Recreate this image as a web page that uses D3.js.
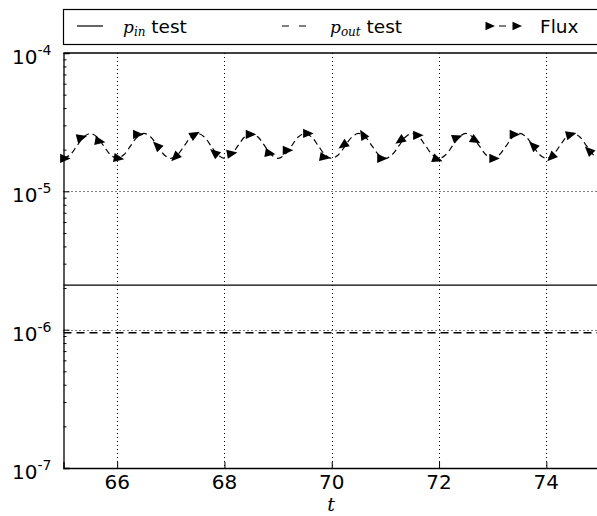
<!DOCTYPE html>
<html><head><meta charset="utf-8">
<script src="https://cdn.jsdelivr.net/npm/d3@7"></script>
<style>body{margin:0;background:#fff}svg{display:block}</style>
</head><body>
<script>
// ---- data ----
const tDomain = [65, 75];
const yTicks = [1e-7, 1e-6, 1e-5, 1e-4];
const yTickLabels = ["-7", "-6", "-5", "-4"];
const xTicks = [66, 68, 70, 72, 74];
const pinT = [65, 75];
const pinVals = [2.1e-6, 2.1e-6];
const poutT = [65, 75];
const poutVals = [0.95e-6, 0.95e-6];
const fluxT = [65,65.125,65.25,65.375,65.5,65.625,65.75,65.875,
 66,66.125,66.25,66.375,66.5,66.625,66.75,66.875,
 67,67.125,67.25,67.375,67.5,67.625,67.75,67.875,
 68,68.125,68.25,68.375,68.5,68.625,68.75,68.875,
 69,69.125,69.25,69.375,69.5,69.625,69.75,69.875,
 70,70.125,70.25,70.375,70.5,70.625,70.75,70.875,
 71,71.125,71.25,71.375,71.5,71.625,71.75,71.875,
 72,72.125,72.25,72.375,72.5,72.625,72.75,72.875,
 73,73.125,73.25,73.375,73.5,73.625,73.75,73.875,
 74,74.125,74.25,74.375,74.5,74.625,74.75,74.875,75];
const fluxVals = [1.73e-5,1.84e-5,2.13e-5,2.47e-5,2.62e-5,2.47e-5,2.13e-5,1.84e-5,
 1.73e-5,1.84e-5,2.13e-5,2.47e-5,2.62e-5,2.47e-5,2.13e-5,1.84e-5,
 1.73e-5,1.84e-5,2.13e-5,2.47e-5,2.62e-5,2.47e-5,2.13e-5,1.84e-5,
 1.73e-5,1.84e-5,2.13e-5,2.47e-5,2.62e-5,2.47e-5,2.13e-5,1.84e-5,
 1.73e-5,1.84e-5,2.13e-5,2.47e-5,2.62e-5,2.47e-5,2.13e-5,1.84e-5,
 1.73e-5,1.84e-5,2.13e-5,2.47e-5,2.62e-5,2.47e-5,2.13e-5,1.84e-5,
 1.73e-5,1.84e-5,2.13e-5,2.47e-5,2.62e-5,2.47e-5,2.13e-5,1.84e-5,
 1.73e-5,1.84e-5,2.13e-5,2.47e-5,2.62e-5,2.47e-5,2.13e-5,1.84e-5,
 1.73e-5,1.84e-5,2.13e-5,2.47e-5,2.62e-5,2.47e-5,2.13e-5,1.84e-5,
 1.73e-5,1.84e-5,2.13e-5,2.47e-5,2.62e-5,2.47e-5,2.13e-5,1.84e-5,1.73e-5];
const markerT = [65.03,65.34,65.68,66.03,66.39,66.74,67.08,67.45,67.81,68.14,68.49,68.85,69.18,69.56,69.87,
 70.21,70.58,70.94,71.27,71.61,71.97,72.34,72.68,73.03,73.41,73.75,74.09,74.46,74.79];
const markerVals = [1.73e-5,2.45e-5,2.30e-5,1.73e-5,2.58e-5,2.15e-5,1.76e-5,2.58e-5,1.91e-5,1.88e-5,2.58e-5,1.88e-5,1.98e-5,2.62e-5,1.76e-5,
 2.15e-5,2.58e-5,1.73e-5,2.33e-5,2.54e-5,1.70e-5,2.45e-5,2.33e-5,1.73e-5,2.58e-5,2.15e-5,1.76e-5,2.58e-5,1.98e-5];
const markerAngle = [0,-15,10,10,0,-135,135,-30,-140,-10,0,10,0,0,10,
 145,-120,0,145,0,20,-20,30,0,0,-135,135,-15,-135];
const legendLabels = [["p","in"," test"],["p","out"," test"],["","","Flux"]];

// ---- layout ----
const W = 597, H = 516;
const m = {left: 63.5, top: 53, bottom: 468, right: 600};
const svg = d3.select("body").append("svg").attr("width", W).attr("height", H)
  .style("font-family", "'DejaVu Sans', sans-serif");
const x = d3.scaleLinear().domain(tDomain).range([m.left, m.right]);
const y = d3.scaleLog().domain([1e-7, 1e-4]).range([m.bottom, m.top]);

// grid
const grid = svg.append("g").attr("stroke", "#000").attr("stroke-width", 1).attr("stroke-dasharray", "1,3");
grid.selectAll(".gx").data(xTicks).enter().append("line")
  .attr("x1", d => Math.round(x(d)) + 0.5).attr("x2", d => Math.round(x(d)) + 0.5)
  .attr("y1", m.top).attr("y2", m.bottom);
grid.selectAll(".gy").data(yTicks.slice(1, 3)).enter().append("line")
  .attr("x1", m.left).attr("x2", m.right)
  .attr("y1", d => Math.round(y(d)) + 0.5).attr("y2", d => Math.round(y(d)) + 0.5);

// lines
const line = d3.line().x(d => x(d[0])).y(d => y(d[1]));
svg.append("path").datum(d3.zip(pinT, pinVals)).attr("d", line)
  .attr("fill", "none").attr("stroke", "#000").attr("stroke-width", 1.2);
svg.append("path").datum(d3.zip(poutT, poutVals)).attr("d", line)
  .attr("fill", "none").attr("stroke", "#000").attr("stroke-width", 1.3).attr("stroke-dasharray", "8,5");
const fluxLine = d3.line().curve(d3.curveCatmullRom).x(d => x(d[0])).y(d => y(d[1]));
svg.append("path").datum(d3.zip(fluxT, fluxVals)).attr("d", fluxLine)
  .attr("fill", "none").attr("stroke", "#000").attr("stroke-width", 1.2).attr("stroke-dasharray", "6,4");
const tri = "M5.5,0L-5,-4.6L-5,4.6Z";
svg.append("g").selectAll("path").data(d3.range(markerT.length)).enter().append("path")
  .attr("d", tri).attr("fill", "#000")
  .attr("transform", i => `translate(${x(markerT[i])},${y(markerVals[i])}) rotate(${markerAngle[i]})`);

// axes
const yAxis = d3.axisLeft(y).tickValues(yTicks).tickSize(-6).tickFormat("");
svg.append("g").attr("transform", `translate(${m.left},0)`).call(yAxis);
const minor = [];
[1e-7, 1e-6, 1e-5].forEach(b => { for (let k = 2; k <= 9; k++) minor.push(b * k); });
svg.append("g").attr("transform", `translate(${m.left},0)`)
  .call(d3.axisLeft(y).tickValues(minor).tickSize(-3).tickFormat(""))
  .call(g => g.select(".domain").remove());
const xAxis = d3.axisBottom(x).tickValues(xTicks).tickSize(-6).tickFormat("");
svg.append("g").attr("transform", `translate(0,${m.bottom})`).call(xAxis);
svg.selectAll(".domain").attr("stroke", "#000").attr("stroke-width", 1.3);
svg.selectAll(".tick line").attr("stroke", "#000");
// top spine
svg.append("line").attr("x1", m.left).attr("x2", m.right).attr("y1", m.top).attr("y2", m.top)
  .attr("stroke", "#000").attr("stroke-width", 1.3);

// tick labels
svg.append("g").selectAll("text").data(xTicks).enter().append("text")
  .attr("x", d => x(d)).attr("y", 489).attr("text-anchor", "middle")
  .attr("font-size", 20).text(d => d);
const yl = svg.append("g").selectAll("text").data(yTicks).enter().append("text")
  .attr("x", 12).attr("y", d => y(d) + 11).attr("font-size", 20);
yl.append("tspan").text("10");
yl.append("tspan").attr("font-size", 14).attr("dy", -9).text((d, i) => yTickLabels[i]);

// x label
svg.append("text").attr("x", 331).attr("y", 511).attr("text-anchor", "middle")
  .attr("font-family", "'DejaVu Serif', serif").attr("font-style", "italic").attr("font-size", 19).text("t");

// legend
const lg = svg.append("g");
lg.append("rect").attr("x", 63.5).attr("y", 9.5).attr("width", 540).attr("height", 35)
  .attr("fill", "#fff").attr("stroke", "#000").attr("stroke-width", 1.2);
const ly = 26;
lg.append("line").attr("x1", 77).attr("x2", 103).attr("y1", ly).attr("y2", ly).attr("stroke", "#000").attr("stroke-width", 1.2);
lg.append("line").attr("x1", 282).attr("x2", 308).attr("y1", ly).attr("y2", ly).attr("stroke", "#000").attr("stroke-width", 1.2).attr("stroke-dasharray", "7,10");
lg.append("line").attr("x1", 490).attr("x2", 517).attr("y1", ly).attr("y2", ly).attr("stroke", "#000").attr("stroke-width", 1.2).attr("stroke-dasharray", "0,9,7,20");
[490, 517].forEach(px => lg.append("path").attr("d", "M5,0L-4.5,-4.2L-4.5,4.2Z").attr("fill", "#000").attr("transform", `translate(${px},${ly})`));
const lx = [123, 330, 540];
legendLabels.forEach((l, i) => {
  const t = lg.append("text").attr("x", lx[i]).attr("y", ly + 7).attr("font-size", 18.5);
  if (l[0]) {
    t.append("tspan").attr("font-family", "'DejaVu Serif', serif").attr("font-style", "italic").attr("font-size", 17).text(l[0]);
    t.append("tspan").attr("font-family", "'DejaVu Serif', serif").attr("font-style", "italic").attr("font-size", 12).attr("dy", 3).text(l[1]);
    t.append("tspan").attr("dy", -3).text(l[2]);
  } else t.append("tspan").text(l[2]);
});
</script>
</body></html>
